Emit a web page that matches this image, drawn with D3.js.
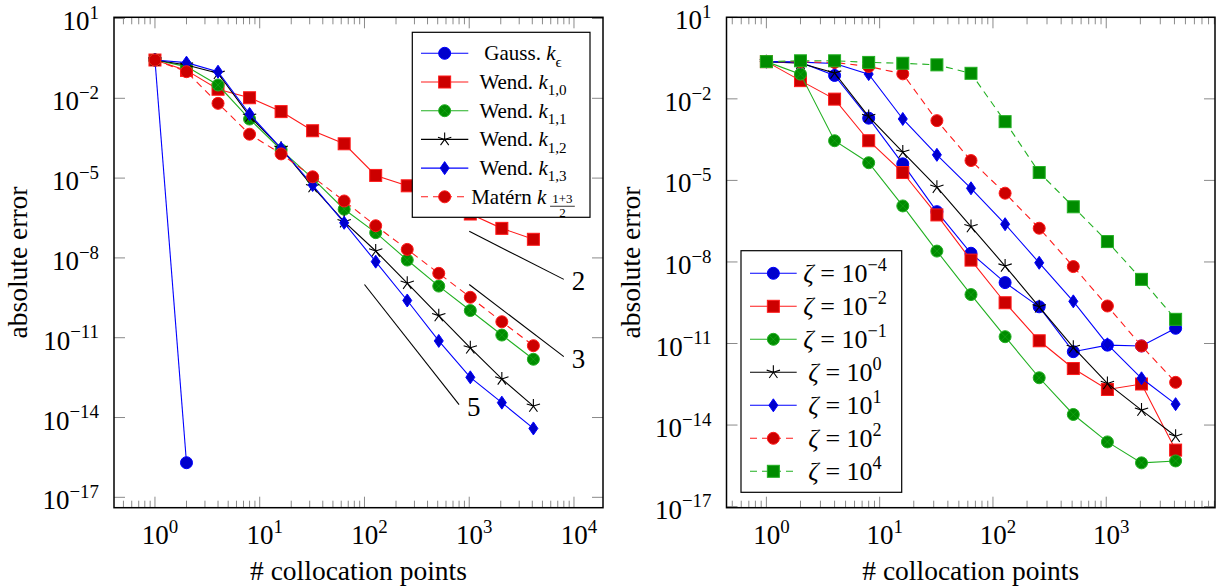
<!DOCTYPE html>
<html>
<head>
<meta charset="utf-8">
<script src="https://cdn.jsdelivr.net/npm/d3@7"></script>
<style>
body { margin: 0; background: #fff; }
svg { display: block; }
text { font-family: "Liberation Serif", "Times New Roman", serif; fill: #000; }
</style>
</head>
<body>
<svg id="chart" width="1219" height="587"></svg>
<script>
"use strict"

// number of collocation points (2^k)
var nPoints = [1, 2, 4, 8, 16, 32, 64, 128, 256, 512, 1024, 2048, 4096];

// left panel: kernels
var gaussN = [1, 2];
var gaussErr = [2.75e-1, 2.0e-16];
var wend10Err = [2.75e-1, 1.12e-1, 2.19e-2, 1.05e-2, 3.16e-3, 6.03e-4, 1.95e-4, 1.26e-5, 5.13e-6, 1.58e-6, 4.47e-7, 1.29e-7, 5.01e-8];
var wend11Err = [2.75e-1, 1.55e-1, 3.16e-2, 1.66e-3, 1.15e-4, 9.77e-6, 6.76e-7, 8.91e-8, 8.32e-9, 8.71e-10, 1.05e-10, 1.26e-11, 1.55e-12];
var wend12Err = [2.75e-1, 1.78e-1, 8.71e-2, 2.14e-3, 1.32e-4, 4.79e-6, 2.29e-7, 1.82e-8, 1.12e-9, 6.76e-11, 4.17e-12, 2.82e-13, 2.69e-14];
var wend13Err = [2.75e-1, 2.19e-1, 1.0e-1, 2.57e-3, 1.32e-4, 5.50e-6, 2.09e-7, 7.24e-9, 2.51e-10, 7.59e-12, 3.24e-13, 3.63e-14, 3.89e-15];
var maternErr = [2.75e-1, 1.0e-1, 6.46e-3, 4.47e-4, 8.13e-5, 1.12e-5, 1.38e-6, 1.62e-7, 2.09e-8, 2.63e-9, 3.31e-10, 3.98e-11, 5.01e-12];

// reference slopes (left panel)
var slopeLabels = ["2", "3", "5"];
var slopeX = [[1e3, 8e3], [1e3, 8e3], [1e2, 8e2]];
var slopeY = [[1e-7, 1.56e-9], [1e-9, 1.95e-12], [1e-9, 3.05e-14]];

// right panel: zeta
var zetaExps = ["−4", "−2", "−1", "0", "1", "2", "4"];
var zetaM4Err = [2.34e-1, 2.19e-1, 7.24e-2, 1.95e-3, 4.07e-5, 7.08e-7, 2.09e-8, 1.74e-9, 2.24e-10, 5.01e-12, 8.71e-12, 8.13e-12, 3.63e-11];
var zetaM2Err = [2.34e-1, 4.68e-2, 9.77e-3, 2.88e-4, 1.95e-5, 5.37e-7, 1.17e-8, 3.16e-10, 1.26e-11, 1.20e-12, 2.04e-13, 3.24e-13, 1.20e-15];
var zetaM1Err = [2.34e-1, 8.13e-2, 2.88e-4, 4.47e-5, 1.15e-6, 2.51e-8, 6.31e-10, 1.78e-11, 5.50e-13, 2.45e-14, 2.40e-15, 4.07e-16, 4.79e-16];
var zeta0Err = [2.34e-1, 2.04e-1, 8.91e-2, 2.24e-3, 1.10e-4, 5.62e-6, 2.00e-7, 7.08e-9, 2.24e-10, 7.24e-12, 3.39e-13, 3.55e-14, 3.89e-15];
var zeta1Err = [2.34e-1, 2.24e-1, 2.00e-1, 8.13e-2, 1.82e-3, 8.71e-5, 5.13e-6, 2.45e-7, 9.33e-9, 3.55e-10, 9.33e-12, 5.25e-13, 5.89e-14];
var zeta2Err = [2.34e-1, 2.29e-1, 2.19e-1, 1.55e-1, 8.32e-2, 1.58e-3, 5.37e-5, 3.39e-6, 1.74e-7, 6.76e-9, 2.40e-10, 8.13e-12, 3.72e-13];
var zeta4Err = [2.34e-1, 2.51e-1, 2.51e-1, 2.19e-1, 2.04e-1, 1.78e-1, 8.71e-2, 1.45e-3, 1.95e-5, 1.07e-6, 5.62e-8, 2.29e-9, 7.76e-11];

// tick labels (powers of ten)
var leftXTickExps = [0, 1, 2, 3, 4];
var rightXTickExps = [0, 1, 2, 3];
var yTickExps = [1, -2, -5, -8, -11, -14, -17];

var xLabel = "# collocation points";
var yLabel = "absolute error";

var BLUE = "#0000ff", BLUE_F = "#0000cc";
var RED = "#ff1a1a", RED_F = "#cc0000";
var GREEN = "#22b022", GREEN_F = "#008c00";
var BLACK = "#000000";
var DASH = "7,5";
var TICK_FONT = 27;

var svg = d3.select("#chart");

function pow10Label(g, x, y, exp, anchor, size) {
	var t = g.append("text")
		.attr("x", x)
		.attr("y", y)
		.attr("font-size", size)
		.attr("text-anchor", anchor)
		;
	t.append("tspan").text("10");
	t.append("tspan")
		.attr("font-size", size * 0.7)
		.attr("dy", -size * 0.42)
		.text(String(exp).replace("-", "−"))
		;
	return t;
}

function drawMark(g, type, cx, cy, color, fill) {
	if (type == "circle" || type == "otimes") {
		g.append("circle")
			.attr("cx", cx).attr("cy", cy).attr("r", 6)
			.attr("fill", fill).attr("stroke", color).attr("stroke-width", 1)
			;
		if (type == "otimes") {
			var r = 4.2;
			g.append("path")
				.attr("d", "M" + (cx - r) + "," + (cy - r) + "L" + (cx + r) + "," + (cy + r)
					+ "M" + (cx - r) + "," + (cy + r) + "L" + (cx + r) + "," + (cy - r))
				.attr("stroke", color).attr("stroke-width", 0.8).attr("stroke-opacity", 0.6)
				;
		}
	} else if (type == "square") {
		g.append("rect")
			.attr("x", cx - 6).attr("y", cy - 6).attr("width", 12).attr("height", 12)
			.attr("fill", fill).attr("stroke", color).attr("stroke-width", 1)
			;
	} else if (type == "diamond") {
		g.append("path")
			.attr("d", "M" + cx + "," + (cy - 6.5) + "L" + (cx + 4.5) + "," + cy + "L" + cx + "," + (cy + 6.5) + "L" + (cx - 4.5) + "," + cy + "Z")
			.attr("fill", fill).attr("stroke", color).attr("stroke-width", 1)
			;
	} else if (type == "star") {
		var d = "";
		for (var i = 0; i < 5; i++) {
			var a = -Math.PI / 2 + i * 2 * Math.PI / 5;
			d += "M" + cx + "," + cy + "L" + (cx + 7 * Math.cos(a)) + "," + (cy + 7 * Math.sin(a));
		}
		g.append("path").attr("d", d).attr("stroke", color).attr("stroke-width", 1.1).attr("fill", "none");
	}
}

// builds a text from parts: [string, style]; style is rm, it, sub, sup
function richText(g, parts, size) {
	var t = g.append("text").attr("font-size", size);
	var shift = 0;
	parts.forEach(function(p) {
		var ts = t.append("tspan").text(p[0]);
		if (p[1] == "it") ts.attr("font-style", "italic");
		if (p[1] == "sub") {
			ts.attr("font-size", size * 0.72).attr("dy", size * 0.3 - shift);
			shift = size * 0.3;
		} else if (p[1] == "sup") {
			ts.attr("font-size", size * 0.7).attr("dy", -size * 0.42 - shift);
			shift = -size * 0.42;
		} else if (shift != 0) {
			ts.attr("dy", -shift);
			shift = 0;
		}
	});
	return t;
}

function panel(cfg) {
	var x = d3.scaleLog().domain(cfg.xDomain).range([cfg.left, cfg.right]);
	var y = d3.scaleLog().domain(cfg.yDomain).range([cfg.bottom, cfg.top]);
	var g = svg.append("g");
	var ticks = g.append("g").attr("stroke", "#8a8a8a").attr("stroke-width", 1);
	// x ticks, major and minor, on bottom and top
	var e0 = Math.floor(Math.log10(cfg.xDomain[0])), e1 = Math.ceil(Math.log10(cfg.xDomain[1]));
	for (var e = e0; e <= e1; e++) {
		for (var m = 1; m <= 9; m++) {
			var v = m * Math.pow(10, e);
			if (v < cfg.xDomain[0] || v > cfg.xDomain[1]) continue;
			var len = (m == 1) ? 11 : 7;
			ticks.append("line").attr("x1", x(v)).attr("x2", x(v)).attr("y1", cfg.bottom).attr("y2", cfg.bottom - len);
			ticks.append("line").attr("x1", x(v)).attr("x2", x(v)).attr("y1", cfg.top).attr("y2", cfg.top + len);
		}
	}
	yTickExps.forEach(function(k) {
		var v = Math.pow(10, k);
		ticks.append("line").attr("x1", cfg.left).attr("x2", cfg.left + 11).attr("y1", y(v)).attr("y2", y(v));
		ticks.append("line").attr("x1", cfg.right).attr("x2", cfg.right - 11).attr("y1", y(v)).attr("y2", y(v));
		pow10Label(g, cfg.left - 15, y(v) + 12, k, "end", TICK_FONT);
	});
	cfg.xTickExps.forEach(function(k) {
		pow10Label(g, x(Math.pow(10, k)) + 5, 544, k, "middle", TICK_FONT);
	});
	g.append("text")
		.attr("x", (cfg.left + cfg.right) / 2)
		.attr("y", 580)
		.attr("font-size", 27.5)
		.attr("text-anchor", "middle")
		.text(xLabel)
		;
	g.append("text")
		.attr("transform", "translate(" + (cfg.left - 87) + "," + ((cfg.top + cfg.bottom) / 2) + ") rotate(-90)")
		.attr("font-size", 27.5)
		.attr("text-anchor", "middle")
		.text(yLabel)
		;
	return {x: x, y: y, g: g, cfg: cfg};
}

function drawSeries(p, s) {
	var pts = s.xs.map(function(v, i) { return [v, s.ys[i]]; });
	var line = d3.line()
		.x(function(d) { return p.x(d[0]); })
		.y(function(d) { return p.y(d[1]); })
		;
	var g = p.g.append("g");
	g.append("path")
		.attr("d", line(pts))
		.attr("fill", "none")
		.attr("stroke", s.color)
		.attr("stroke-width", 1.1)
		.attr("stroke-dasharray", s.dash ? DASH : null)
		;
	pts.forEach(function(d) {
		drawMark(g, s.mark, p.x(d[0]), p.y(d[1]), s.color, s.fill);
	});
}

function drawLegend(p, series, box, rowY0, rowStep, sampleX, textCx, size) {
	var g = p.g.append("g");
	g.append("rect")
		.attr("x", box[0]).attr("y", box[1])
		.attr("width", box[2] - box[0]).attr("height", box[3] - box[1])
		.attr("fill", "#fff").attr("stroke", "#000").attr("stroke-width", 1.2)
		;
	series.forEach(function(s, i) {
		var cy = rowY0 + i * rowStep;
		g.append("line")
			.attr("x1", sampleX[0]).attr("x2", sampleX[1]).attr("y1", cy).attr("y2", cy)
			.attr("stroke", s.color).attr("stroke-width", 1.1)
			.attr("stroke-dasharray", s.dash ? DASH : null)
			;
		drawMark(g, s.mark, (sampleX[0] + sampleX[1]) / 2, cy, s.color, s.fill);
		var lg = g.append("g");
		var t = richText(lg, s.label, size);
		if (s.frac) {
			var w = t.node().getComputedTextLength();
			var fs = size * 0.62;
			var fx = w + 3 + fs * 1.0;
			lg.append("text").attr("x", fx).attr("y", -size * 0.02).attr("font-size", fs).attr("text-anchor", "middle").text(s.frac[0]);
			lg.append("line").attr("x1", fx - fs * 0.95).attr("x2", fx + fs * 0.95).attr("y1", size * 0.12).attr("y2", size * 0.12).attr("stroke", "#000").attr("stroke-width", 0.8);
			lg.append("text").attr("x", fx).attr("y", size * 0.12 + fs * 0.85).attr("font-size", fs).attr("text-anchor", "middle").text(s.frac[1]);
		}
		var bb = lg.node().getBBox();
		lg.attr("transform", "translate(" + (textCx - bb.width / 2 - bb.x) + "," + (cy + size * 0.33) + ")");
	});
}

// left panel
var pl = panel({
	left: 114, right: 603, top: 17.3, bottom: 507.7,
	xDomain: [Math.pow(10, -0.391), Math.pow(10, 4.277)],
	yDomain: [Math.pow(10, -17.39), Math.pow(10, 1.045)],
	xTickExps: leftXTickExps
});

var leftSeries = [
	{xs: gaussN, ys: gaussErr, color: BLUE, fill: BLUE_F, mark: "circle",
		label: [["Gauss. ", "rm"], ["k", "it"], ["ϵ", "sub"]]},
	{xs: nPoints, ys: wend10Err, color: RED, fill: RED_F, mark: "square",
		label: [["Wend. ", "rm"], ["k", "it"], ["1,0", "sub"]]},
	{xs: nPoints, ys: wend11Err, color: GREEN, fill: GREEN_F, mark: "otimes",
		label: [["Wend. ", "rm"], ["k", "it"], ["1,1", "sub"]]},
	{xs: nPoints, ys: wend12Err, color: BLACK, fill: BLACK, mark: "star",
		label: [["Wend. ", "rm"], ["k", "it"], ["1,2", "sub"]]},
	{xs: nPoints, ys: wend13Err, color: BLUE, fill: BLUE_F, mark: "diamond",
		label: [["Wend. ", "rm"], ["k", "it"], ["1,3", "sub"]]},
	{xs: nPoints, ys: maternErr, color: RED, fill: RED_F, mark: "circle", dash: true,
		label: [["Matérn ", "rm"], ["k", "it"]], frac: ["1+3", "2"]}
];

slopeLabels.forEach(function(lab, i) {
	var x1 = pl.x(slopeX[i][1]), y1 = pl.y(slopeY[i][1]);
	pl.g.append("line")
		.attr("x1", pl.x(slopeX[i][0])).attr("y1", pl.y(slopeY[i][0]))
		.attr("x2", x1).attr("y2", y1)
		.attr("stroke", "#000").attr("stroke-width", 1.1)
		;
	pl.g.append("text")
		.attr("x", x1 + 8).attr("y", y1 + 11)
		.attr("font-size", TICK_FONT)
		.text(lab)
		;
});
leftSeries.forEach(function(s) { drawSeries(pl, s); });
drawLegend(pl, leftSeries, [412.3, 32.3, 590, 217.3], 53.3, 28.7, [421, 468.3], 523, 21);

// right panel
var pr = panel({
	left: 726.5, right: 1215, top: 17.3, bottom: 507.7,
	xDomain: [Math.pow(10, -0.352), Math.pow(10, 3.96)],
	yDomain: [Math.pow(10, -17.04), Math.pow(10, 1.0)],
	xTickExps: rightXTickExps
});

var zetaErrs = [zetaM4Err, zetaM2Err, zetaM1Err, zeta0Err, zeta1Err, zeta2Err, zeta4Err];
var zetaStyles = [
	{color: BLUE, fill: BLUE_F, mark: "circle"},
	{color: RED, fill: RED_F, mark: "square"},
	{color: GREEN, fill: GREEN_F, mark: "otimes"},
	{color: BLACK, fill: BLACK, mark: "star"},
	{color: BLUE, fill: BLUE_F, mark: "diamond"},
	{color: RED, fill: RED_F, mark: "circle", dash: true},
	{color: GREEN, fill: GREEN_F, mark: "square", dash: true}
];
var rightSeries = zetaErrs.map(function(ys, i) {
	var st = zetaStyles[i];
	return {xs: nPoints, ys: ys, color: st.color, fill: st.fill, mark: st.mark, dash: st.dash,
		label: [["ζ", "it"], [" = 10", "rm"], [zetaExps[i], "sup"]]};
});
rightSeries.forEach(function(s) { drawSeries(pr, s); });
drawLegend(pr, rightSeries, [741, 250.7, 901.7, 492.3], 273.3, 33, [750, 796.7], 845, 26);

// frames on top
[pl, pr].forEach(function(p) {
	p.g.append("rect")
		.attr("x", p.cfg.left).attr("y", p.cfg.top)
		.attr("width", p.cfg.right - p.cfg.left).attr("height", p.cfg.bottom - p.cfg.top)
		.attr("fill", "none").attr("stroke", "#000").attr("stroke-width", 1.5)
		;
});
</script>
</body>
</html>
